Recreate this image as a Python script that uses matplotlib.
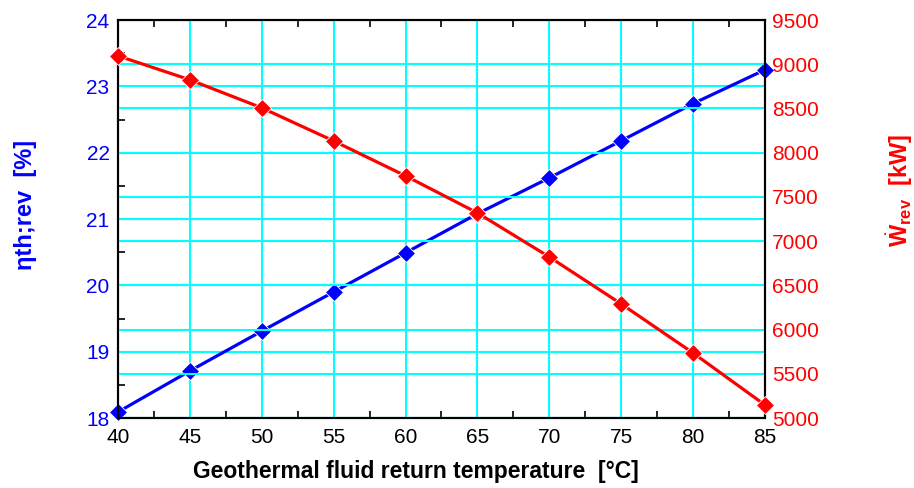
import matplotlib
matplotlib.use("Agg")
import matplotlib.pyplot as plt
from matplotlib.ticker import MultipleLocator

plt.rcParams['font.family'] = ['Liberation Sans', 'DejaVu Sans']
plt.rcParams['mathtext.fontset'] = 'custom'
plt.rcParams['mathtext.rm'] = 'Liberation Sans'
plt.rcParams['mathtext.bf'] = 'Liberation Sans:bold'
plt.rcParams['mathtext.it'] = 'Liberation Sans:italic'

# Geothermal fluid return temperature [°C]
temperature = [40, 45, 50, 55, 60, 65, 70, 75, 80, 85]
# Reversible thermal efficiency [%]
eta_rev = [18.09, 18.71, 19.31, 19.90, 20.49, 21.08, 21.62, 22.18, 22.74, 23.25]
# Reversible power [kW]
w_rev = [9095, 8824, 8507, 8133, 7738, 7319, 6821, 6290, 5735, 5147]

fig = plt.figure(figsize=(9.14, 4.88), dpi=100)
ax = fig.add_axes([0.129, 0.1434, 0.708, 0.8156])
ax2 = ax.twinx()

cyan = '#00FFFF'
ax.set_axisbelow(True)
ax2.set_axisbelow(True)

ax.set_xlim(40, 85)
ax.set_ylim(18, 24)
ax2.set_ylim(5000, 9500)

ax.xaxis.set_major_locator(MultipleLocator(5))
ax.xaxis.set_minor_locator(MultipleLocator(2.5))
ax.yaxis.set_major_locator(MultipleLocator(1))
ax.yaxis.set_minor_locator(MultipleLocator(0.5))
ax2.yaxis.set_major_locator(MultipleLocator(500))

ax.grid(True, which='major', axis='both', color=cyan, linewidth=1.5)
ax2.grid(True, which='major', axis='y', color=cyan, linewidth=1.5)
ax2.set_zorder(ax.get_zorder() + 1)
ax2.patch.set_visible(False)

ax.plot(temperature, eta_rev, color='#0000FF', linewidth=2.3, marker='D',
        markersize=9, markeredgecolor='white', markeredgewidth=0.6,
        clip_on=False, zorder=3)
ax2.plot(temperature, w_rev, color='#FF0000', linewidth=2.3, marker='D',
         markersize=9, markeredgecolor='white', markeredgewidth=0.6,
         clip_on=False, zorder=3)

ax.tick_params(axis='x', which='both', direction='in', top=True, colors='black',
               labelsize=15, pad=7)
ax.tick_params(axis='x', which='major', length=0)
ax.tick_params(axis='x', which='minor', length=5, width=1.2)
ax.tick_params(axis='y', which='major', direction='in', length=0,
               labelcolor='#0000FF', labelsize=15, pad=6)
ax.tick_params(axis='y', which='minor', direction='in', length=5, width=1.2,
               color='black')
ax2.tick_params(axis='y', which='major', direction='in', length=0,
                labelcolor='#FF0000', labelsize=15, pad=5)

for sp in ax.spines.values():
    sp.set_linewidth(1.5)
    sp.set_color('black')
for sp in ax2.spines.values():
    sp.set_linewidth(1.5)
    sp.set_color('black')

ax.set_xlabel('Geothermal fluid return temperature  [°C]', fontsize=16.5,
              fontweight='bold')
ax.xaxis.set_label_coords(0.46, -0.105)

fig.text(0.028, 0.58, 'ηth;rev  [%]', rotation=90, color='#0000FF',
         fontsize=17, fontweight='bold', ha='center', va='center')
fig.text(0.984, 0.61, r'$\dot{\mathbf{W}}_{\mathbf{rev}}$  [kW]', rotation=90,
         color='#FF0000', fontsize=17, fontweight='bold', ha='center',
         va='center')

fig.savefig('out.png', dpi=100)
